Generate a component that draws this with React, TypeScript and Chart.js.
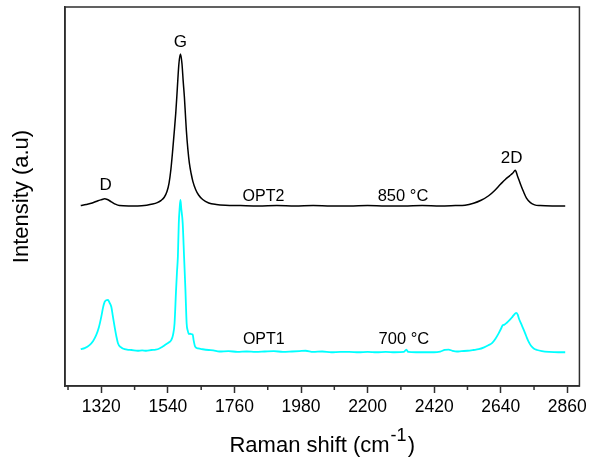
import React, { useEffect, useRef } from 'react';
import { Chart, registerables } from 'chart.js';

Chart.register(...registerables);

// ---- Data ----
const X_MIN = 1200;
const X_MAX = 2900;
const Y_MIN = 0;
const Y_MAX = 100;
const MAJOR_TICKS = [1320, 1540, 1760, 1980, 2200, 2420, 2640, 2860];
const MINOR_TICKS = [1210, 1430, 1650, 1870, 2090, 2310, 2530, 2750];

// OPT2, 850 °C (offset spectrum) : [Raman shift, intensity]
const OPT2: [number, number][] = [
  [1252, 47.6], [1270, 47.9], [1290, 48.3], [1309, 48.9], [1322, 49.2], [1331, 49.4], [1340, 49.2],
  [1353, 48.6], [1366, 48.0], [1380, 47.6], [1410, 47.5], [1440, 47.5], [1470, 47.7], [1490, 48.0],
  [1505, 48.4], [1518, 49.0], [1528, 49.8], [1537, 51.3], [1544, 53.6], [1550, 57.2], [1556, 62.3],
  [1561.5, 67.5], [1566, 72], [1569.5, 76.3], [1573, 81], [1576.5, 85.1], [1581.5, 87.6], [1586.5, 85.1],
  [1590.5, 80.5], [1594.5, 76.3], [1598, 71.5], [1601, 67.5], [1606, 62.5], [1611, 58.8], [1617, 56.0],
  [1622.5, 54.0], [1632, 51.8], [1641.5, 50.4], [1655, 49.2], [1675, 48.3], [1700, 47.9], [1730, 47.7],
  [1780, 47.6], [1840, 47.5], [1900, 47.6], [1960, 47.5], [2020, 47.6], [2080, 47.5], [2140, 47.5],
  [2200, 47.6], [2260, 47.5], [2320, 47.5], [2380, 47.6], [2440, 47.5], [2490, 47.6], [2522, 47.7],
  [2550, 48.2], [2575, 49.0], [2600, 50.2], [2620, 51.6], [2640, 53.3], [2655, 54.5], [2670, 55.5],
  [2680, 56.2], [2688, 56.9], [2695, 55.5], [2705, 53.3], [2715, 51.3], [2725, 49.6], [2738, 48.4],
  [2752, 47.8], [2770, 47.6], [2810, 47.5], [2853, 47.5],
];

// OPT1, 700 °C : [Raman shift, intensity]
const OPT1: [number, number][] = [
  [1252, 9.7], [1265, 10.0], [1281, 10.8], [1293, 11.9], [1303, 13.4], [1312, 15.5], [1320, 18.3],
  [1326, 20.8], [1331, 22.2], [1336, 22.6], [1342, 22.7], [1347, 22.0], [1353, 20.9], [1358, 18.5],
  [1364, 15.6], [1370, 13.0], [1375, 11.3], [1383, 10.3], [1391, 9.9], [1405, 9.6], [1420, 9.5],
  [1440, 9.3], [1455, 9.4], [1468, 9.3], [1485, 9.5], [1500, 9.6], [1512, 9.9], [1523, 10.4],
  [1534, 11.0], [1545, 11.6], [1551, 12.1], [1557, 13.5], [1562, 16.5], [1567, 25.3], [1570, 30.0],
  [1573, 34.1], [1576, 42.9], [1579, 47.0], [1581.5, 49.1], [1584, 47.0], [1589, 42.9], [1593.5, 34.1],
  [1598, 25.3], [1602, 16.5], [1606, 14.5], [1609, 13.7], [1613, 13.8], [1617, 13.7], [1622, 13.6],
  [1625, 12.1], [1630, 10.4], [1640, 9.9], [1655, 9.7], [1675, 9.5], [1690, 9.4], [1710, 9.1],
  [1740, 9.2], [1770, 9.0], [1800, 9.1], [1830, 9.0], [1860, 9.1], [1890, 9.2], [1920, 9.0],
  [1950, 9.1], [1975, 9.2], [1995, 9.3], [2020, 9.0], [2050, 9.1], [2080, 8.9], [2110, 9.0],
  [2140, 9.0], [2170, 8.9], [2200, 9.0], [2230, 8.9], [2260, 9.0], [2290, 8.9], [2320, 9.0],
  [2328, 9.6], [2334, 9.0], [2360, 8.9], [2390, 8.9], [2420, 8.9], [2440, 9.1], [2455, 9.5],
  [2468, 9.6], [2480, 9.3], [2495, 9.1], [2510, 9.2], [2530, 9.3], [2550, 9.5], [2567, 9.7],
  [2585, 10.2], [2600, 10.8], [2611, 11.3], [2622, 12.4], [2633, 13.9], [2642, 15.3], [2646, 16.0],
  [2652, 16.2], [2660, 16.7], [2668, 17.3], [2676, 18.0], [2683, 18.7], [2691, 19.3], [2696, 18.8],
  [2700, 17.8], [2708, 16.3], [2716, 14.8], [2724, 13.2], [2732, 11.7], [2740, 10.6], [2749, 9.9],
  [2760, 9.5], [2776, 9.2], [2800, 9.0], [2830, 8.9], [2853, 8.9],
];

const PEAK_LABELS = ['D', 'G', '2D'];
const SAMPLE_LABELS = ['OPT2', '850 °C', 'OPT1', '700 °C'];
const X_TITLE = 'Raman shift (cm';
const X_TITLE_SUP = '-1';
const Y_TITLE = 'Intensity (a.u)';

// ---- Styles ----
const FONT = "'Liberation Sans', Arial, Helvetica, sans-serif";
const FRAME = '#2e2e2e';

// annotation anchors in data coordinates
const ANNOTATIONS = [
  { text: PEAK_LABELS[0], x: 1334, y: 52.9, size: 17 },
  { text: PEAK_LABELS[1], x: 1581.5, y: 90.6, size: 17 },
  { text: PEAK_LABELS[2], x: 2676, y: 60.2, size: 17 },
  { text: SAMPLE_LABELS[0], x: 1856, y: 50.1, size: 16 },
  { text: SAMPLE_LABELS[1], x: 2317, y: 50.1, size: 16.5 },
  { text: SAMPLE_LABELS[2], x: 1857, y: 12.3, size: 16 },
  { text: SAMPLE_LABELS[3], x: 2320, y: 12.4, size: 16.5 },
];

const decorPlugin = {
  id: 'decor',
  afterDraw(chart: any) {
    const { ctx, chartArea: ca, scales } = chart;
    const xs = scales.x;
    const ys = scales.y;
    ctx.save();
    // frame
    ctx.strokeStyle = FRAME;
    ctx.lineWidth = 1.5;
    ctx.strokeRect(ca.left, ca.top, ca.right - ca.left, ca.bottom - ca.top);
    // minor ticks
    ctx.beginPath();
    for (const v of MINOR_TICKS) {
      const px = xs.getPixelForValue(v);
      ctx.moveTo(px, ca.bottom);
      ctx.lineTo(px, ca.bottom + 4);
    }
    ctx.stroke();
    // annotations
    ctx.fillStyle = '#000';
    ctx.textAlign = 'center';
    ctx.textBaseline = 'middle';
    for (const a of ANNOTATIONS) {
      ctx.font = `${a.size}px ${FONT}`;
      ctx.fillText(a.text, xs.getPixelForValue(a.x), ys.getPixelForValue(a.y));
    }
    // x title with superscript
    ctx.textAlign = 'left';
    ctx.textBaseline = 'alphabetic';
    const mainFont = `22px ${FONT}`;
    const supFont = `18px ${FONT}`;
    ctx.font = mainFont;
    const w1 = ctx.measureText(X_TITLE).width;
    const w3 = ctx.measureText(')').width;
    ctx.font = supFont;
    const w2 = ctx.measureText(X_TITLE_SUP).width;
    const total = w1 + w2 + w3 + 2;
    const start = (ca.left + ca.right) / 2 - total / 2;
    const base = ca.bottom + 66;
    ctx.font = mainFont;
    ctx.fillText(X_TITLE, start, base);
    ctx.font = supFont;
    ctx.fillText(X_TITLE_SUP, start + w1 + 1, base - 11);
    ctx.font = mainFont;
    ctx.fillText(')', start + w1 + w2 + 2, base);
    ctx.restore();
  },
};

export default function App() {
  const ref = useRef<HTMLCanvasElement>(null);
  useEffect(() => {
    if (!ref.current) return;
    Chart.defaults.font.family = FONT;
    const chart = new Chart(ref.current, {
      type: 'scatter',
      data: {
        datasets: [
          {
            label: 'OPT2 850 °C',
            data: OPT2.map(([x, y]) => ({ x, y })),
            borderColor: '#000000',
            backgroundColor: '#000000',
            borderWidth: 1.5,
            showLine: true,
            pointRadius: 0,
            fill: false,
            cubicInterpolationMode: 'monotone',
          },
          {
            label: 'OPT1 700 °C',
            data: OPT1.map(([x, y]) => ({ x, y })),
            borderColor: '#00ffff',
            backgroundColor: '#00ffff',
            borderWidth: 1.8,
            showLine: true,
            pointRadius: 0,
            fill: false,
            cubicInterpolationMode: 'monotone',
          },
        ],
      },
      options: {
        responsive: false,
        animation: false,
        devicePixelRatio: 1,
        layout: { padding: { top: 7, right: 9, left: 0, bottom: 0 } },
        plugins: {
          legend: { display: false },
          tooltip: { enabled: false },
        },
        scales: {
          x: {
            type: 'linear',
            min: X_MIN,
            max: X_MAX,
            afterBuildTicks: (s: any) => {
              s.ticks = MAJOR_TICKS.map((v) => ({ value: v }));
            },
            afterFit: (s: any) => {
              s.height = 71;
            },
            ticks: {
              autoSkip: false,
              maxRotation: 0,
              color: '#000',
              padding: 4,
              font: { size: 17.5, family: FONT },
              callback: (v: any) => String(v),
            },
            grid: {
              display: true,
              drawOnChartArea: false,
              drawTicks: true,
              tickLength: 7,
              tickWidth: 1.5,
              tickColor: FRAME,
            },
            border: { display: true, color: FRAME, width: 1.5 },
            title: { display: false },
          },
          y: {
            type: 'linear',
            min: Y_MIN,
            max: Y_MAX,
            afterFit: (s: any) => {
              s.width = 65;
            },
            ticks: { display: false },
            grid: { display: false },
            border: { display: true, color: FRAME, width: 1.5 },
            title: {
              display: true,
              text: Y_TITLE,
              color: '#000',
              font: { size: 22, family: FONT },
              padding: { top: 9, bottom: 0 },
            },
          },
        },
      },
      plugins: [decorPlugin],
    } as any);
    return () => chart.destroy();
  }, []);
  return (
    <div style={{ position: 'absolute', left: 0, top: 0, width: 591, height: 457, background: '#fff' }}>
      <canvas ref={ref} width={591} height={457} />
    </div>
  );
}
